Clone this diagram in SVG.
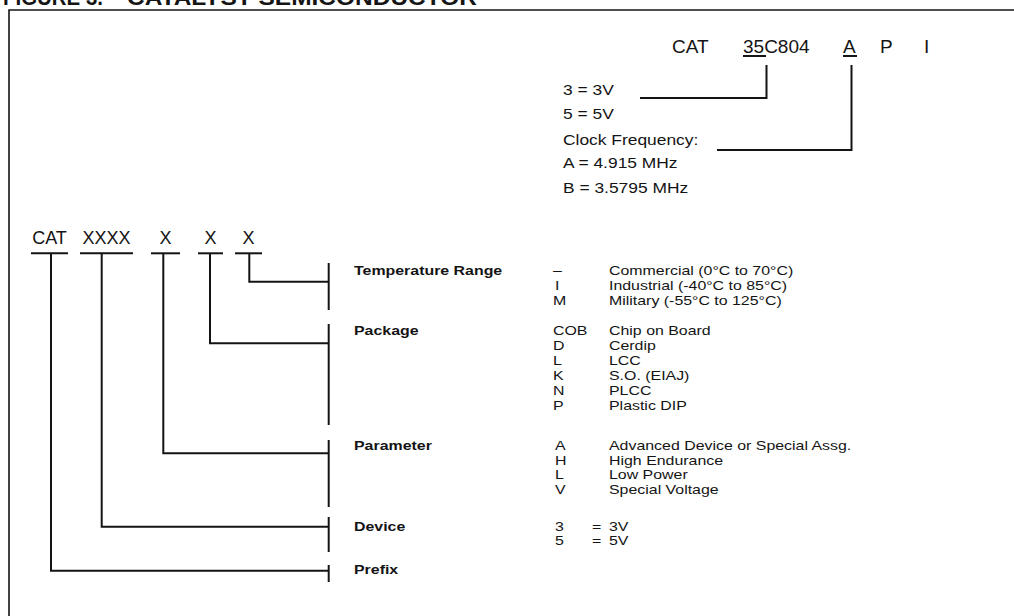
<svg xmlns="http://www.w3.org/2000/svg" width="1014" height="616" viewBox="0 0 1014 616">
<style>
.t{font-family:"Liberation Sans",Arial,Helvetica,sans-serif;font-size:13.6px;fill:#141414;transform-box:fill-box;transform-origin:0 50%;transform:scaleX(1.17)}
.b{font-weight:bold}
.ttl{font-family:"Liberation Sans",Arial,Helvetica,sans-serif;font-size:22px;font-weight:bold;fill:#141414}
.big{font-family:"Liberation Sans",Arial,Helvetica,sans-serif;font-size:19px;fill:#141414}
.mid{font-size:15px;transform:scaleX(1.16)}
.code{font-family:"Liberation Sans",Arial,Helvetica,sans-serif;font-size:18px;fill:#141414}
.ln{stroke:#141414;stroke-width:2;fill:none}
.fr{stroke:#141414;stroke-width:1.6;fill:none}
</style>
<rect width="1014" height="616" fill="#ffffff"/>
<g id="title">
<text class="ttl" x="3" y="5" textLength="100" lengthAdjust="spacingAndGlyphs">FIGURE 3.</text>
<text class="ttl" x="127" y="5" textLength="350" lengthAdjust="spacingAndGlyphs">CATALYST SEMICONDUCTOR</text>
</g>
<g id="frame">
<path class="fr" d="M9 616 V10 H1014"/>
</g>
<g id="example">
<text class="big" x="672" y="53">CAT</text>
<text class="big" x="743" y="53">35C804</text>
<text class="big" x="843" y="53">A</text>
<text class="big" x="880" y="53">P</text>
<text class="big" x="924" y="53">I</text>
<line class="ln" x1="743" y1="56" x2="766" y2="56" stroke-width="1.6"/>
<line class="ln" x1="843" y1="56" x2="857" y2="56" stroke-width="1.6"/>
<text class="t mid" x="563" y="95.5">3 = 3V</text>
<text class="t mid" x="563" y="119.5">5 = 5V</text>
<text class="t mid" x="563" y="145">Clock Frequency:</text>
<text class="t mid" x="563" y="168.5">A = 4.915 MHz</text>
<text class="t mid" x="563" y="193">B = 3.5795 MHz</text>
</g>
<g id="code-row">
<text class="code" x="49.5" y="244" text-anchor="middle">CAT</text>
<text class="code" x="106.5" y="244" text-anchor="middle">XXXX</text>
<text class="code" x="165.5" y="244" text-anchor="middle">X</text>
<text class="code" x="210.5" y="244" text-anchor="middle">X</text>
<text class="code" x="248.5" y="244" text-anchor="middle">X</text>
<g class="ln">
<line x1="31" y1="253.3" x2="68" y2="253.3"/>
<line x1="80" y1="253.3" x2="133" y2="253.3"/>
<line x1="151" y1="253.3" x2="180" y2="253.3"/>
<line x1="198" y1="253.3" x2="223" y2="253.3"/>
<line x1="235" y1="253.3" x2="262" y2="253.3"/>
</g>
</g>
<g id="temperature">
<line class="ln" x1="328.7" y1="263" x2="328.7" y2="310"/>
<text class="t b" x="354" y="275.5">Temperature Range</text>
<text class="t" x="553" y="275.5">–</text><text class="t" x="609" y="275.5">Commercial (0°C to 70°C)</text>
<text class="t" x="555" y="290.5">I</text><text class="t" x="609" y="290.5">Industrial (-40°C to 85°C)</text>
<text class="t" x="553" y="305.5">M</text><text class="t" x="609" y="305.5">Military (-55°C to 125°C)</text>
</g>
<g id="package">
<line class="ln" x1="328.7" y1="324" x2="328.7" y2="425"/>
<text class="t b" x="354" y="335.5">Package</text>
<text class="t" x="553" y="335.5">COB</text><text class="t" x="609" y="335.5">Chip on Board</text>
<text class="t" x="553" y="350.5">D</text><text class="t" x="609" y="350.5">Cerdip</text>
<text class="t" x="553" y="365.5">L</text><text class="t" x="609" y="365.5">LCC</text>
<text class="t" x="553" y="380.5">K</text><text class="t" x="609" y="380.5">S.O. (EIAJ)</text>
<text class="t" x="553" y="395.5">N</text><text class="t" x="609" y="395.5">PLCC</text>
<text class="t" x="553" y="410.5">P</text><text class="t" x="609" y="410.5">Plastic DIP</text>
</g>
<g id="parameter">
<line class="ln" x1="328.7" y1="440" x2="328.7" y2="507"/>
<text class="t b" x="354" y="450.5">Parameter</text>
<text class="t" x="555" y="450.5">A</text><text class="t" x="609" y="450.5">Advanced Device or Special Assg.</text>
<text class="t" x="555" y="465">H</text><text class="t" x="609" y="465">High Endurance</text>
<text class="t" x="555" y="479.5">L</text><text class="t" x="609" y="479.5">Low Power</text>
<text class="t" x="555" y="494">V</text><text class="t" x="609" y="494">Special Voltage</text>
</g>
<g id="device">
<line class="ln" x1="328.7" y1="517" x2="328.7" y2="552"/>
<text class="t b" x="354" y="531">Device</text>
<text class="t" x="555" y="531">3</text><text class="t" x="592" y="531">=</text><text class="t" x="609" y="531">3V</text>
<text class="t" x="555" y="545.5">5</text><text class="t" x="592" y="545.5">=</text><text class="t" x="609" y="545.5">5V</text>
</g>
<g id="prefix">
<line class="ln" x1="328.7" y1="565" x2="328.7" y2="582"/>
<text class="t b" x="354" y="574.5">Prefix</text>
</g>
<g id="connectors" class="ln">
<path d="M766.5 65 V98 H640"/>
<path d="M851.5 65 V150 H717"/>
<path d="M249.3 253 V281.7 H328.7"/>
<path d="M210 253 V343.3 H328.7"/>
<path d="M163.3 253 V453.3 H328.7"/>
<path d="M101.7 253 V526.7 H328.7"/>
<path d="M51 253 V570.7 H328.7"/>
</g>
</svg>
